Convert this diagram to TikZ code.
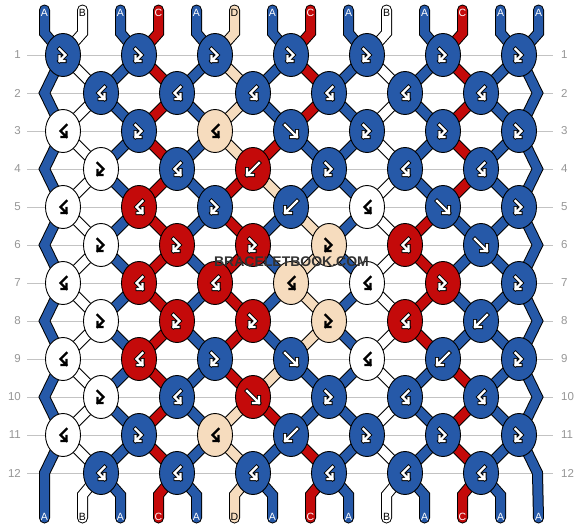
\documentclass[tikz,border=0pt]{standalone}
\usepackage{fontspec}
\setmainfont{Liberation Sans}
\usetikzlibrary{shapes.geometric}
\definecolor{colA}{RGB}{38,89,168}
\definecolor{colB}{RGB}{255,255,255}
\definecolor{colC}{RGB}{196,10,10}
\definecolor{colD}{RGB}{246,220,190}
\colorlet{txtA}{white}
\colorlet{txtB}{black}
\colorlet{txtC}{white}
\colorlet{txtD}{black}
\definecolor{gridgray}{RGB}{195,195,195}
\definecolor{numgray}{RGB}{150,150,150}
\definecolor{markgray}{RGB}{50,50,50}
\pgfdeclarelayer{back}
\pgfdeclarelayer{threads}
\pgfsetlayers{back,threads,main}

\newcommand\drawglyph[4]{%
  \begin{scope}[shift={(#1.center)}, xscale=#4, line join=miter, line cap=rect]
    \if b#3
      \def\glyphpath{(-3.5,-6) -- (2.5,0) -- (-3.5,6) (-3.5,1) -- (-3.5,6) -- (1.5,6)}%
    \else
      \def\glyphpath{(-6,-6) -- (6,6) (6,0) -- (6,6) -- (0,6)}%
    \fi
    \def\glyphlt{0}%
    \if B#2\def\glyphlt{1}\fi
    \if D#2\def\glyphlt{1}\fi
    \ifnum\glyphlt=1
      \draw[black, line width=2.3pt] \glyphpath;
    \else
      \draw[black, line width=4pt] \glyphpath;
      \draw[white, line width=2.2pt] \glyphpath;
    \fi
  \end{scope}}

\newcommand\knotrow[2]{%
  \foreach \clr/\shp/\mir [count=\ki] in {#2} {%
    \pgfmathsetmacro\kx{mod(#1,2)==1 ? 63+76*(\ki-1) : 101+76*(\ki-1)}%
    \node[knot=\clr] (k#1-\ki) at (\kx, {55+38*(#1-1)}) {};
    \drawglyph{k#1-\ki}{\clr}{\shp}{\mir}
  }}

\newcommand\segrow[2]{%
  \foreach \clr [count=\pos] in {#2} {%
    \ifnum\pos>1 \ifnum\pos<14
      \pgfmathtruncatemacro\ia{mod(#1,2)==1 ? floor((\pos+1)/2) : floor(\pos/2)}%
      \pgfmathtruncatemacro\ib{mod(#1,2)==1 ? floor(\pos/2) : floor((\pos+1)/2)}%
      \pgfmathtruncatemacro\rb{#1+1}%
      \draw[thrO] (k#1-\ia.center) -- (k\rb-\ib.center);
      \draw[thrC=\clr] (k#1-\ia.center) -- (k\rb-\ib.center);
    \fi\fi}}

\newcommand\leftedge{(ta1) -- (tb1) -- (k1-1.center) -- (eL2) -- (k3-1.center) -- (eL4) -- (k5-1.center) -- (eL6) -- (k7-1.center) -- (eL8) -- (k9-1.center) -- (eL10) -- (k11-1.center) -- (eL12) -- (bb1)}
\newcommand\rightedge{(ta14) -- (tb14) -- (k1-7.center) -- (eR2) -- (k3-7.center) -- (eR4) -- (k5-7.center) -- (eR6) -- (k7-7.center) -- (eR8) -- (k9-7.center) -- (eR10) -- (k11-7.center) -- (eR12) -- (bb14)}

\begin{document}
\begin{tikzpicture}[x=1pt,y=-1pt,
  knot/.style={ellipse, draw=black, line width=0.9pt, fill=col#1, minimum width=35pt, minimum height=43pt, inner sep=0pt},
  thrO/.style={line width=11pt, draw=black, line cap=round, line join=miter},
  thrC/.style={line width=9pt, draw=col#1, line cap=round, line join=miter},
  lbl/.style={font=\fontsize{10.5}{12}\selectfont, text=txt#1, inner sep=0pt},
  rownum/.style={font=\fontsize{11.5}{13}\selectfont, text=numgray, inner sep=0pt},
  gridline/.style={draw=gridgray, line width=1pt}]

\begin{pgfonlayer}{back}
  \fill[white] (0,0) rectangle (582,528);
  \foreach \r in {1,...,12}
    \draw[gridline] (27,{55+38*(\r-1)}) -- (553,{55+38*(\r-1)});
\end{pgfonlayer}
\useasboundingbox (0,0) rectangle (582,528);

% knots
\knotrow{1}{A/b/1,A/b/1,A/b/1,A/b/1,A/b/1,A/b/1,A/b/1}
\knotrow{2}{A/b/-1,A/b/-1,A/b/-1,A/b/-1,A/b/-1,A/b/-1}
\knotrow{3}{B/b/-1,A/b/1,D/b/-1,A/s/1,A/b/1,A/b/1,A/b/1}
\knotrow{4}{B/b/1,A/b/-1,C/s/-1,A/b/1,A/b/-1,A/b/-1}
\knotrow{5}{B/b/-1,C/b/-1,A/b/1,A/s/-1,B/b/-1,A/s/1,A/b/1}
\knotrow{6}{B/b/1,C/b/1,C/b/1,D/b/1,C/b/-1,A/s/1}
\knotrow{7}{B/b/-1,C/b/-1,C/b/-1,D/b/-1,B/b/-1,C/b/1,A/b/1}
\knotrow{8}{B/b/1,C/b/1,C/b/1,D/b/1,C/b/-1,A/s/-1}
\knotrow{9}{B/b/-1,C/b/-1,A/b/1,A/s/1,B/b/-1,A/s/-1,A/b/1}
\knotrow{10}{B/b/1,A/b/-1,C/s/1,A/b/1,A/b/-1,A/b/-1}
\knotrow{11}{B/b/-1,A/b/1,D/b/-1,A/s/-1,A/b/1,A/b/1,A/b/1}
\knotrow{12}{A/b/-1,A/b/-1,A/b/-1,A/b/-1,A/b/-1,A/b/-1}

% string ends and edge turning points
\foreach \pos in {1,...,14}{
  \pgfmathsetmacro\sx{44.5+38*(\pos-1)}
  \coordinate (ta\pos) at (\sx,10);
  \coordinate (tb\pos) at (\sx,33);
  \coordinate (ba\pos) at (\sx,495);
  \coordinate (bb\pos) at (\sx,518);
}
\foreach \r in {2,4,...,12}{
  \coordinate (eL\r) at (44.5,{55+38*(\r-1)});
  \coordinate (eR\r) at (537.5,{55+38*(\r-1)});
}

\begin{pgfonlayer}{threads}
  \foreach \clr [count=\pos] in {A,B,A,C,A,D,A,C,A,B,A,C,A,A}{
    \ifnum\pos>1 \ifnum\pos<14
      \pgfmathtruncatemacro\ia{floor((\pos+1)/2)}
      \pgfmathtruncatemacro\ib{floor(\pos/2)}
      \draw[thrO] (ta\pos) -- (tb\pos) -- (k1-\ia.center);
      \draw[thrC=\clr] (ta\pos) -- (tb\pos) -- (k1-\ia.center);
      \draw[thrO] (k12-\ib.center) -- (ba\pos) -- (bb\pos);
      \draw[thrC=\clr] (k12-\ib.center) -- (ba\pos) -- (bb\pos);
    \fi\fi}
  \draw[thrO] \leftedge;
  \draw[thrC=A] \leftedge;
  \draw[thrO] \rightedge;
  \draw[thrC=A] \rightedge;
  \segrow{1}{A,B,A,C,A,D,A,C,A,B,A,C,A,A}
  \segrow{2}{A,B,A,C,A,D,A,C,A,B,A,C,A,A}
  \segrow{3}{A,B,A,C,A,D,C,A,A,B,A,C,A,A}
  \segrow{4}{A,B,A,C,A,C,D,A,A,B,A,C,A,A}
  \segrow{5}{A,B,A,C,A,C,A,D,A,B,C,A,A,A}
  \segrow{6}{A,B,A,C,A,C,A,D,A,B,C,A,A,A}
  \segrow{7}{A,B,A,C,A,C,A,D,A,B,C,A,A,A}
  \segrow{8}{A,B,A,C,A,C,A,D,A,B,C,A,A,A}
  \segrow{9}{A,B,A,C,A,C,D,A,A,B,A,C,A,A}
  \segrow{10}{A,B,A,C,A,D,C,A,A,B,A,C,A,A}
  \segrow{11}{A,B,A,C,A,D,A,C,A,B,A,C,A,A}
\end{pgfonlayer}

% string labels
\foreach \clr [count=\pos] in {A,B,A,C,A,D,A,C,A,B,A,C,A,A}{
  \pgfmathsetmacro\sx{44.5+38*(\pos-1)}
  \node[lbl=\clr] (lt\pos) at (\sx,13) {\clr};
  \node[lbl=\clr] (lb\pos) at (\sx,517) {\clr};
}

% row numbers
\foreach \r in {1,...,12}{
  \node[rownum, anchor=east] (nl\r) at (21,{55+38*(\r-1)}) {\r};
  \node[rownum, anchor=west] (nr\r) at (561,{55+38*(\r-1)}) {\r};
}

\node[font=\bfseries\fontsize{14}{16}\selectfont, text=markgray, inner sep=0pt] (wm) at (291.5,262) {BRACELETBOOK.COM};
\end{tikzpicture}
\end{document}
